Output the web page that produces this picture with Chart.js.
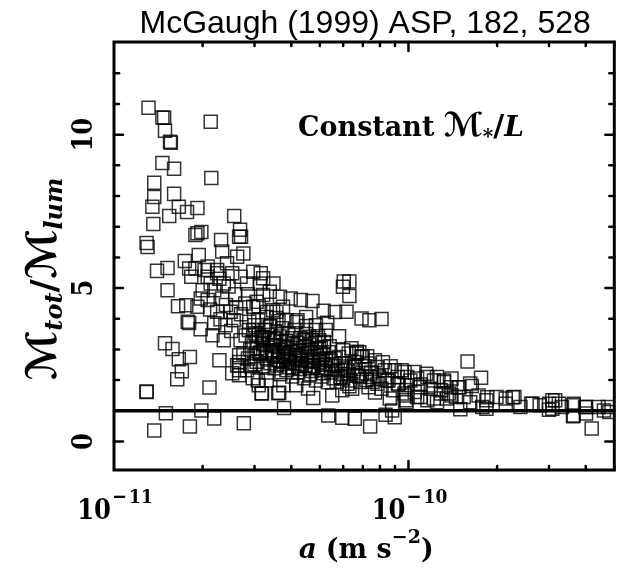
<!DOCTYPE html>
<html>
<head>
<meta charset="utf-8">
<script src="https://cdn.jsdelivr.net/npm/chart.js@4.4.1/dist/chart.umd.min.js"></script>
<style>
  html, body { margin: 0; padding: 0; background: #fff; }
  #wrap { width: 625px; height: 573px; }
</style>
</head>
<body>
<div id="wrap"><canvas id="massChart" width="625" height="573"></canvas></div>
<script>
// Centripetal acceleration, in units of 1e-11 m s^-2
const accel = [
    // sparse upper left
    1.31, 1.46, 1.48, 1.49, 1.55, 1.56, 2.13, 1.46, 1.60, 1.37, 2.14, 1.37, 1.60, 1.35,
    1.66, 1.77, 1.92, 1.54, 1.36, 2.56, 1.89, 1.98, 2.31, 2.68, 2.66, 2.70, 1.29, 1.30,
    // left side
    1.40, 1.52, 1.74, 1.94, 1.52, 1.65, 1.76, 1.80, 1.97, 1.49, 1.58, 1.66, 1.81, 1.70,
    1.64, 2.28, 2.11, 1.29, 1.29, 1.50, 1.98, 2.19, 1.37, 1.81, 2.76, 2.52, 2.66, 2.66,
    3.08, 3.17, 3.61, 2.66, 2.66, 2.66,
    // upper branch
    1.80, 1.89, 2.03, 2.08, 2.24, 2.13, 2.00, 2.19, 2.36, 2.33, 1.97, 2.08, 1.92, 1.78,
    2.19, 2.16, 2.36, 2.39, 2.24, 2.49, 2.55, 2.42, 2.33, 2.62, 2.75, 2.52, 2.69, 2.83,
    2.97, 3.13, 3.21, 2.79, 2.97, 3.09, 3.30, 3.47, 3.66, 2.97, 3.21, 3.51, 2.69, 2.75,
    2.62, 1.83, 2.08, 2.24, 1.92,
    2.28, 2.45, 2.58, 2.40, 2.70, 2.85, 2.60, 2.88, 3.05, 3.38, 3.62, 2.12, 2.30, 2.50, 2.80,
    // middle
    3.15, 3.48, 3.21, 3.38, 3.98, 4.31, 4.72, 3.75, 3.56, 4.20, 4.49, 6.03, 5.99, 6.30,
    5.15, 5.63, 6.16, 6.93, 7.37, 8.10, 5.30, 5.81, 4.85, 4.60, 4.97, 5.17, 6.68, 6.99,
    3.18, 3.64, 4.75, 5.51, 3.78, 5.34, 5.96, 6.57, 7.41, 8.36, 8.80, 9.85, 6.30,
    // dense core
    2.87, 3.00, 3.10, 3.25, 3.40, 3.56, 3.73, 3.91, 4.10, 4.29, 4.49, 4.70, 4.93, 5.16, 5.40,
    2.94, 3.07, 3.22, 3.38, 3.54, 3.70, 3.88, 4.06, 4.26, 4.45, 4.67, 4.89, 5.12, 5.36, 5.61,
    3.00, 3.15, 3.30, 3.46, 3.62, 3.79, 3.97, 4.16, 4.35, 4.56, 4.78, 5.00, 5.24, 5.48, 5.75,
    3.20, 3.35, 3.51, 3.67, 3.85, 4.03, 4.22, 4.42, 4.63, 4.85, 5.08, 5.32, 5.57,
    2.83, 2.96, 3.10, 3.30, 3.76, 4.16, 4.56, 3.56, 3.85, 4.16, 3.30, 3.10, 4.49, 4.85, 5.24,
    3.05, 3.20, 3.46, 3.62, 3.79, 3.97, 4.16, 4.35, 4.56, 4.78, 5.00, 5.24, 3.30, 3.51,
    3.85, 4.22, 4.63, 5.08, 5.48, 5.92, 6.21, 3.00, 3.67, 4.03,
    3.02, 3.18, 3.33, 3.49, 3.66, 3.84, 4.02, 4.20, 4.40, 4.60, 4.82, 5.04, 3.12, 3.27,
    3.44, 3.60, 3.77, 3.94, 4.12, 4.31, 4.52, 4.73, 4.96, 5.20, 5.44, 3.40, 3.58, 3.75,
    3.92, 4.10, 4.28, 4.48, 4.70, 4.92, 5.15, 2.90, 2.85, 2.92, 3.05, 5.65, 5.90, 6.10,
    6.25, 6.50, 6.70, 6.95, 7.20, 7.55, 7.85, 5.70, 6.00, 6.20,
    // tail
    5.81, 6.27, 6.68, 6.93, 6.11, 6.60, 7.32, 7.80, 8.32, 8.98, 9.70, 5.88, 6.35, 6.86,
    7.41, 8.00, 8.55, 9.20, 9.90, 10.7, 11.6, 12.2, 13.2, 13.9, 14.9, 5.96, 6.44, 7.32,
    8.10, 8.87, 9.70, 10.5, 11.0, 12.2, 12.9, 14.0, 15.4, 9.80, 8.64,
    6.00, 6.40, 6.81, 7.24, 7.70, 8.19, 8.70, 6.60, 7.13, 7.47, 7.94, 8.45, 9.26, 10.15,
    11.0, 6.81, 6.30, 7.70,
    9.48, 10.5, 11.5, 12.5, 13.2, 14.0, 14.8, 9.2, 9.9, 10.9, 11.9, 12.9, 13.7, 14.5,
    9.7, 10.7, 11.6, 12.5, 13.5, 16.2, 17.3, 18.4, 19.9, 21.4, 22.9, 17.8, 21.4, 16.2,
    26.4, 30.0, 32.4, 30.8, 33.2, 36.4, 39.8, 44.2, 47.6, 36.4,
    15.87, 17.64, 16.41, 8.98, 18.52, 22.6, 26.1, 27.9, 30.8, 30.0, 31.5, 36.4, 36.2,
    40.1, 40.1, 41.9, 46.1, 48.1, 18.4, 24.0, 15.0
];

// Total to luminous mass ratio
const massRatio = [
    10.88, 10.56, 10.55, 10.13, 9.77, 9.74, 10.42, 9.08, 8.89, 8.43, 8.59, 7.97, 8.07, 7.65,
    7.65, 7.48, 7.61, 7.35, 7.09, 7.35, 6.73, 6.83, 6.57, 6.90, 6.67, 6.67, 6.47, 6.34,
    5.56, 5.65, 5.88, 6.08, 4.93, 4.41, 4.44, 3.86, 3.66, 3.20, 3.01, 2.68, 2.75, 2.29,
    2.03, 2.65, 1.76, 1.63, 1.61, 0.92, 1.01, 0.75, 0.36, 0.49, 0.59, 2.22, 2.48, 2.81,
    1.99, 1.57, 1.57, 2.59, 2.32, 2.16,
    5.64, 5.64, 5.59, 5.37, 5.59, 5.15, 4.93, 4.93, 5.15, 4.66, 4.66, 4.61, 4.39, 3.90,
    3.85, 3.46, 3.30, 3.79, 4.23, 4.23, 3.95, 5.81, 6.19, 6.02, 6.13, 5.48, 5.37, 5.15,
    5.53, 5.15, 4.77, 4.50, 4.39, 3.95, 4.06, 4.28, 4.72, 3.63, 3.41, 3.36, 3.30, 2.87,
    2.48, 5.37, 5.70, 5.48, 6.79,
    5.30, 5.05, 4.80, 4.45, 4.15, 4.80, 4.35, 3.90, 4.55, 3.75, 3.92, 4.30, 3.98, 3.60, 3.45,
    5.48, 5.15, 5.32, 4.88, 4.66, 4.61, 4.58, 4.39, 4.23, 3.95, 4.06, 5.21, 5.04, 4.74,
    4.26, 4.22, 4.23, 4.01, 3.95, 3.99, 3.87, 3.43, 3.63, 3.41, 3.30, 3.08, 2.87, 2.78,
    1.56, 1.59, 1.42, 1.50, 1.09, 0.85, 0.77, 0.74, 0.49, 0.87, 1.01, 1.28, 5.21,
    3.63, 3.79, 3.46, 3.63, 3.76, 3.56, 3.69, 3.50, 3.63, 3.37, 3.50, 3.30, 3.43, 3.24, 3.10,
    3.24, 3.04, 3.17, 3.30, 3.10, 3.24, 3.04, 3.17, 2.97, 3.10, 2.91, 3.04, 2.84, 2.91, 2.71,
    2.78, 2.91, 2.71, 2.84, 2.65, 2.78, 2.58, 2.71, 2.52, 2.65, 2.45, 2.58, 2.39, 2.52, 2.32,
    2.45, 2.25, 2.39, 2.19, 2.32, 2.12, 2.25, 2.06, 2.19, 1.99, 2.12, 1.93, 2.06,
    2.32, 2.06, 1.83, 1.99, 1.83, 1.83, 1.73, 4.02, 3.95, 3.89, 4.22, 4.41, 3.76, 3.79, 3.63,
    3.30, 3.37, 3.14, 2.97, 3.10, 2.91, 3.04, 2.84, 2.97, 2.78, 2.91, 2.71, 2.97, 2.78,
    2.65, 2.45, 2.39, 2.32, 2.25, 2.19, 2.32, 2.52, 2.52, 2.39,
    3.52, 3.40, 3.48, 3.33, 3.42, 3.28, 3.36, 3.22, 3.30, 3.16, 3.22, 3.05, 2.86, 2.80,
    2.92, 2.76, 2.88, 2.70, 2.82, 2.64, 2.76, 2.60, 2.68, 2.50, 2.62, 2.55, 2.48, 2.60,
    2.42, 2.55, 2.36, 2.48, 2.30, 2.40, 2.22, 3.00, 2.70, 2.45, 2.60, 2.45, 2.55, 2.38,
    2.20, 2.28, 2.15, 2.22, 2.00, 1.95, 1.88, 1.95, 2.05, 1.88,
    2.75, 2.87, 2.92, 2.75, 2.54, 2.43, 2.54, 2.43, 2.32, 2.32, 2.26, 2.10, 1.99, 1.94,
    2.10, 2.05, 1.99, 2.10, 2.10, 2.05, 2.10, 1.99, 1.94, 1.77, 1.77, 1.67, 1.72, 1.77,
    1.72, 1.67, 1.56, 1.61, 1.45, 1.40, 1.56, 1.50, 1.45, 1.34, 1.40,
    2.97, 3.04, 2.91, 2.78, 2.65, 2.58, 2.45, 2.58, 2.45, 2.25, 2.12, 1.99, 1.86, 1.99,
    1.86, 2.12, 1.80, 1.60,
    2.32, 2.26, 2.21, 2.10, 1.99, 2.05, 1.77, 1.89, 1.83, 1.77, 1.72, 1.67, 1.56, 1.45,
    1.50, 1.45, 1.34, 1.28, 1.40, 1.89, 1.50, 1.34, 1.45, 1.40, 1.45, 1.12, 1.23, 1.28,
    1.23, 1.23, 1.23, 1.07, 1.12, 1.23, 1.12, 1.12, 1.12, 0.85,
    2.61, 2.08, 1.81, 0.79, 1.44, 1.44, 1.23, 1.18, 1.34, 1.03, 1.34, 1.18, 0.82,
    1.12, 0.91, 0.42, 1.01, 0.96, 1.07, 1.12, 1.05
];

const ACCEL_UNIT = 1e-11;
const xRange = [1e-11, 5e-10];
const yRange = [-0.93, 13.02];
const unityRatio = [1, 1];

// tick labels
const xTickValues = [1e-11, 1e-10];
const xTickExponents = ['\u221211', '\u221210'];
const yTickValues = [0, 5, 10];
const yTickLabels = ['0', '5', '10'];

const SERIF = '"DejaVu Serif", serif';
const COND = '"DejaVu Serif Condensed", "DejaVu Serif", serif';
const SCRIPT = '"DejaVu Serif", "DejaVu Sans", serif';

const points = accel.map((a, i) => ({ x: a * ACCEL_UNIT, y: massRatio[i] }));
const unityPoints = xRange.map((v, i) => ({ x: v, y: unityRatio[i] }));

// draw a row of text pieces (different fonts / raised or lowered)
function drawRuns(ctx, runs, x, y, align) {
    let total = 0;
    runs.forEach(r => {
        ctx.font = r.f;
        r.w = ctx.measureText(r.t).width + (r.gap || 0);
        total += r.w;
    });
    let cx = align === 'center' ? x - total / 2 : x;
    ctx.textAlign = 'left';
    ctx.textBaseline = 'alphabetic';
    runs.forEach(r => {
        ctx.font = r.f;
        ctx.fillText(r.t, cx, y + (r.dy || 0));
        cx += r.w;
    });
}

const framePlugin = {
    id: 'framePlugin',
    afterDatasetsDraw(chart) {
        const { ctx, chartArea: a, scales: { x, y } } = chart;
        ctx.save();
        ctx.strokeStyle = '#000';
        ctx.lineWidth = 2.5;
        ctx.lineCap = 'round';
        const seg = (x1, y1, x2, y2) => { ctx.beginPath(); ctx.moveTo(x1, y1); ctx.lineTo(x2, y2); ctx.stroke(); };

        // log ticks on top and bottom
        for (let e = -11; e <= -10; e++) {
            for (let m = 1; m <= 9; m++) {
                const v = m * Math.pow(10, e);
                if (v <= xRange[0] * 1.0001 || v > xRange[1]) continue;
                const px = x.getPixelForValue(v);
                const len = m === 1 ? 9 : 4;
                seg(px, a.bottom, px, a.bottom - len);
                seg(px, a.top, px, a.top + len);
            }
        }
        // linear ticks on left and right
        for (let v = 0; v <= 12; v++) {
            const py = y.getPixelForValue(v);
            const len = v % 5 === 0 ? 9 : 5;
            seg(a.left, py, a.left + len, py);
            seg(a.right, py, a.right - len, py);
        }

        ctx.lineWidth = 3;
        ctx.lineCap = 'butt';
        ctx.strokeRect(a.left, a.top, a.right - a.left, a.bottom - a.top);
        ctx.restore();
    },
    afterDraw(chart) {
        const { ctx, chartArea: a, scales: { x, y } } = chart;
        ctx.save();
        ctx.fillStyle = '#000';

        // title
        ctx.font = '32px "Liberation Sans", Arial, sans-serif';
        ctx.textAlign = 'center';
        ctx.fillText('McGaugh (1999) ASP, 182, 528', (a.left + a.right) / 2 + 1, 33);

        // x tick labels
        xTickValues.forEach((v, i) => {
            const px = x.getPixelForValue(v);
            ctx.font = 'bold 27px ' + COND;
            ctx.textAlign = 'right';
            ctx.fillText('10', px - 3, a.bottom + 49);
            drawRuns(ctx, [
                { t: xTickExponents[i].charAt(0), f: 'bold 20px ' + COND, gap: 2 },
                { t: xTickExponents[i].slice(1), f: 'bold 19px ' + COND }
            ], px - 2, a.bottom + 33, 'left');
        });

        // y tick labels, rotated
        yTickValues.forEach((v, i) => {
            const py = y.getPixelForValue(v);
            ctx.save();
            ctx.translate(a.left - 22, py);
            ctx.rotate(-Math.PI / 2);
            ctx.font = 'bold 27px ' + COND;
            ctx.textAlign = 'center';
            ctx.fillText(yTickLabels[i], 0, 0);
            ctx.restore();
        });

        // x axis title
        drawRuns(ctx, [
            { t: 'a', f: 'bold italic 28px ' + SERIF, gap: 9 },
            { t: '(m s', f: 'bold 27px ' + SERIF },
            { t: '\u22122', f: 'bold 19px ' + SERIF, dy: -15 },
            { t: ')', f: 'bold 27px ' + SERIF }
        ], (a.left + a.right) / 2 + 2, a.bottom + 88, 'center');

        // y axis title, rotated
        ctx.save();
        ctx.translate(56, 279);
        ctx.rotate(-Math.PI / 2);
        drawRuns(ctx, [
            { t: '\u2133', f: 'bold italic 42px ' + SCRIPT },
            { t: 'tot', f: 'bold italic 24px ' + SERIF, dy: 6 },
            { t: '/', f: 'bold 36px ' + SERIF },
            { t: '\u2133', f: 'bold italic 42px ' + SCRIPT },
            { t: 'lum', f: 'bold italic 24px ' + SERIF, dy: 6 }
        ], 0, 0, 'center');
        ctx.restore();

        // label inside the plot
        drawRuns(ctx, [
            { t: 'Constant ', f: 'bold 27px ' + SERIF },
            { t: '\u2133', f: 'bold italic 33px ' + SCRIPT },
            { t: '*', f: 'bold 20px ' + SERIF, dy: 7 },
            { t: '/', f: 'bold 30px ' + SERIF },
            { t: 'L', f: 'bold italic 28px ' + SERIF }
        ], 298, 136, 'left');

        ctx.restore();
    }
};

const chart = new Chart(document.getElementById('massChart').getContext('2d'), {
    type: 'scatter',
    data: {
        datasets: [
            {
                type: 'line',
                data: unityPoints,
                borderColor: '#000',
                borderWidth: 3.5,
                pointRadius: 0,
                fill: false
            },
            {
                data: points,
                pointStyle: 'rect',
                pointRadius: 9.2,
                pointHoverRadius: 9.2,
                borderColor: 'rgba(0,0,0,0.8)',
                backgroundColor: 'transparent',
                pointBorderWidth: 1.5,
                borderWidth: 1.5
            }
        ]
    },
    options: {
        responsive: false,
        animation: false,
        events: [],
        layout: { padding: { left: 114, right: 3, top: 42, bottom: 103 } },
        plugins: {
            legend: { display: false },
            tooltip: { enabled: false }
        },
        scales: {
            x: { type: 'logarithmic', min: xRange[0], max: xRange[1], display: false },
            y: { type: 'linear', min: yRange[0], max: yRange[1], display: false }
        }
    },
    plugins: [framePlugin]
});
</script>
</body>
</html>
